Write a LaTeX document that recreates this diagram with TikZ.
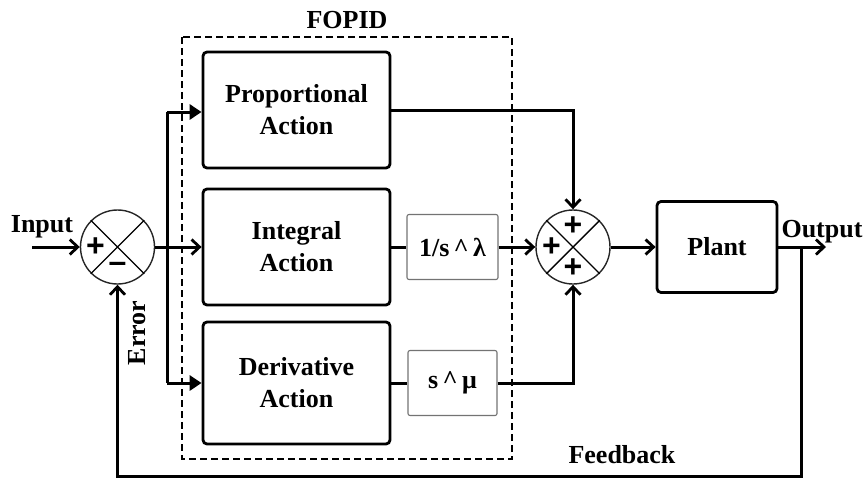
\documentclass[tikz,border=0pt]{standalone}
\usepackage{fontspec}
\setmainfont{Liberation Serif}
\newfontfamily\signfont{Liberation Sans}
\usetikzlibrary{arrows.meta}
\begin{document}
\begin{tikzpicture}[x=1pt,y=-1pt,
  font=\fontsize{26}{32}\selectfont\bfseries,
  blk/.style={draw,line width=2.8pt,rounded corners=4pt,align=center,inner sep=0pt},
  fblk/.style={draw=black!55,line width=1.1pt,rounded corners=2pt,inner sep=0pt},
  sumc/.style={draw=black!85,circle,line width=1.4pt,minimum size=74pt,inner sep=0pt},
  conn/.style={line width=3pt},
  barb/.style={conn,-{Straight Barb[length=8pt,width=15pt,line width=2.8pt]}},
  tri/.style={conn,-{Triangle[length=12pt,width=15pt]}},
  sign/.style={font=\signfont\bfseries\fontsize{32}{32}\selectfont,inner sep=0pt},
  lbl/.style={inner sep=0pt}]
\useasboundingbox (0,0) rectangle (866,479);
% FOPID dashed box
\draw[line width=1.5pt,dash pattern=on 7pt off 4pt] (182,37) rectangle (512,459);
\node[lbl] (fopid) at (347,20) {FOPID};
% summing junctions
\node[sumc] (s1) at (117.5,247) {};
\draw[line width=1.4pt] (s1.45) -- (s1.225) (s1.135) -- (s1.315);
\node[sign] (s1p) at (95.5,247) {+};
\node[sign] (s1m) at (117.5,268) {\raisebox{2pt}{–}};
\node[sumc] (s2) at (573,247) {};
\draw[line width=1.4pt] (s2.45) -- (s2.225) (s2.135) -- (s2.315);
\node[sign] (s2t) at (573,226) {+};
\node[sign] (s2l) at (551.5,247) {+};
\node[sign] (s2b) at (573,268) {+};
% blocks
\node[blk,minimum width=187pt,minimum height=116pt] (prop) at (296.5,110) {Proportional\\Action};
\node[blk,minimum width=187pt,minimum height=116pt] (integ) at (296.5,247) {Integral\\Action};
\node[blk,minimum width=187pt,minimum height=122pt] (deriv) at (296.5,383) {Derivative\\Action};
\node[fblk,minimum width=91pt,minimum height=65pt] (lam) at (452.5,247) {1/s\,\^{}\,λ};
\node[fblk,minimum width=89pt,minimum height=65pt] (mu) at (452.5,383) {s\,\^{}\,μ};
\node[blk,minimum width=120pt,minimum height=91pt] (plant) at (717,247) {Plant};
% labels
\node[lbl] (inlbl) at (42,227) {Input};
\node[lbl] (outlbl) at (822,232) {Output};
\node[lbl,rotate=90] (errlbl) at (137,333) {Error};
\node[lbl] (fblbl) at (622,455) {Feedback};
% coordinates
\coordinate (in) at (32,247);
\coordinate (bt) at (167,112);
\coordinate (bb) at (167,383);
\coordinate (out) at (826,247);
\coordinate (fbt) at (801,247);
\coordinate (fbb) at (801,476);
% connectors
\draw[barb] (in) -- (s1.west);
\draw[barb] (s1.east) -- (integ.west);
\draw[conn] (bt) -- (bb);
\draw[tri] (bt) -- (bt -| prop.west);
\draw[tri] (bb) -- (deriv.west);
\draw[conn] (integ.east) -- (lam.west);
\draw[barb] (lam.east) -- (s2.west);
\draw[conn] (deriv.east) -- (mu.west);
\draw[barb] (mu.east) -| (s2.south);
\draw[barb] (prop.east) -| (s2.north);
\draw[barb] (s2.east) -- (plant.west);
\draw[barb] (plant.east) -- (out);
\draw[barb] (fbt) -- (fbb) -| (s1.south);
\end{tikzpicture}
\end{document}
